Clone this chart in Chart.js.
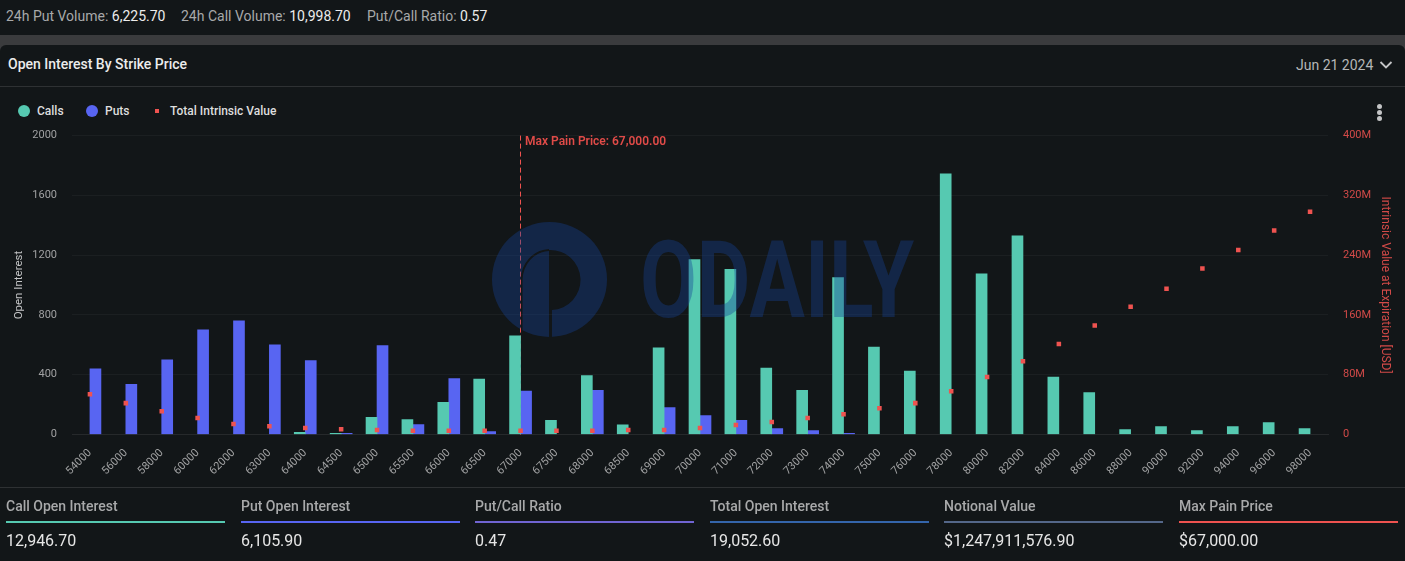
<!DOCTYPE html>
<html>
<head>
<meta charset="utf-8">
<title>Open Interest By Strike Price</title>
<script src="https://cdn.jsdelivr.net/npm/chart.js@4"></script>
<style>
html, body { margin: 0; padding: 0; background: #3a3b3d; }
body { width: 1405px; height: 561px; position: relative; overflow: hidden; font-family: Roboto, sans-serif; color: #e6e6e6; }
.topbar { position: absolute; left: 0; top: 0; width: 1405px; height: 35px; background: #121618; font-size: 14px; line-height: 33px; white-space: nowrap; }
.topbar span { position: absolute; top: 0; color: #a8a9aa; }
.topbar b { font-weight: 400; color: #ececec; }
.card { position: absolute; left: 0; top: 45px; width: 1405px; height: 516px; background: #121618; border-radius: 6px 6px 0 0; }
.title { position: absolute; left: 8px; top: 56px; font-size: 14px; line-height: 17px; font-weight: 500; color: #ececec; }
.expiry { position: absolute; left: 1296px; top: 56px; font-size: 14px; line-height: 18px; color: #b5b6b7; }
.chev { position: absolute; left: 1379px; top: 60px; }
.rule { position: absolute; left: 0; width: 1405px; height: 1px; background: #2e3133; }
.legend { position: absolute; top: 103px; height: 16px; font-size: 12px; line-height: 16px; font-weight: 500; color: #dedede; white-space: nowrap; }
.legend i { position: absolute; }
.dots { position: absolute; left: 1377px; top: 104px; width: 6px; }
.dots i { display: block; width: 5px; height: 5px; border-radius: 50%; background: #c4c5c6; margin-bottom: 1px; }
#wrap { position: absolute; left: 0; top: 114px; width: 1405px; height: 371px; }
#mark { position: absolute; left: 0; top: 0; pointer-events: none; }
.stat { position: absolute; top: 498px; width: 219px; }
.stat .lab { font-size: 14px; line-height: 17px; color: #a8a9aa; font-weight: 500; }
.stat .bar { position: absolute; top: 23px; left: 0; width: 100%; height: 2px; }
.stat .val { position: absolute; top: 33px; left: 0; font-size: 16px; line-height: 19px; color: #e6e6e6; white-space: nowrap; }
</style>
</head>
<body>
<div class="topbar" id="topbar"></div>
<div class="card"></div>
<div class="title">Open Interest By Strike Price</div>
<div class="expiry">Jun 21 2024</div>
<svg class="chev" width="14" height="12" viewBox="0 0 14 12"><path d="M1.5 2 L7 7.5 L12.5 2" fill="none" stroke="#c4c5c6" stroke-width="1.8"/></svg>
<div class="rule" style="top:86px"></div>
<div id="legend"></div>
<div class="dots"><i></i><i></i><i></i></div>
<div id="wrap"><canvas id="grafico" width="1405" height="371"></canvas></div>
<svg id="mark" width="1405" height="561" viewBox="0 0 1405 561">
  <defs>
    <mask id="recorte">
      <rect x="480" y="210" width="140" height="140" fill="#fff"/>
      <path d="M549 250 a30 30 0 0 1 3 60 l0 30 l-3 0 Z" fill="#000"/>
      <path d="M549 250 c-16 1 -27 14 -27.5 30 l0 52" fill="none" stroke="#000" stroke-width="2"/>
    </mask>
  </defs>
  <g fill="rgb(20,65,150)" fill-opacity="0.38">
    <circle cx="549.5" cy="279.5" r="57.5" mask="url(#recorte)"/>
    <text x="640" y="317" font-family="Roboto" font-weight="700" font-size="107" textLength="274" lengthAdjust="spacingAndGlyphs">ODAILY</text>
  </g>
</svg>
<div id="stats"></div>

<script>
// Dados
const strikes = ['54000', '56000', '58000', '60000', '62000', '63000', '64000', '64500', '65000', '65500', '66000', '66500', '67000', '67500', '68000', '68500', '69000', '70000', '71000', '72000', '73000', '74000', '75000', '76000', '78000', '80000', '82000', '84000', '86000', '88000', '90000', '92000', '94000', '96000', '98000'];
const calls = [null, null, null, null, null, null, 15, 8, 115, 100, 215, 370, 660, 95, 395, 65, 580, 1170, 1105, 445, 295, 1050, 585, 425, 1745, 1075, 1330, 385, 280, 33, 53, 27, 53, 80, 40];
const puts = [440, 335, 500, 700, 760, 600, 495, 8, 595, 67, 375, 20, 290, null, 295, null, 180, 127, 95, 40, 27, 7, null, null, null, null, null, null, null, null, null, null, null, null, null];
const intrinsic = [54, 42, 31, 22, 14, 11, 8.7, 7, 6, 5, 5, 5, 5, 5, 5, 6, 6, 8.7, 12.7, 16.7, 22, 27, 35, 42, 58, 77, 98, 121, 146, 171, 195, 222, 247, 273, 298];
const maxPainStrike = '67000';
const maxPainLabel = 'Max Pain Price: 67,000.00';

const topStats = [['24h Put Volume:', '6,225.70', 6], ['24h Call Volume:', '10,998.70', 181], ['Put/Call Ratio:', '0.57', 367]];
const bottomStats = [
    ['Call Open Interest', '12,946.70', '#56c9b1', 6],
    ['Put Open Interest', '6,105.90', '#5865f2', 241],
    ['Put/Call Ratio', '0.47', '#7064d2', 475],
    ['Total Open Interest', '19,052.60', '#3465ab', 710],
    ['Notional Value', '$1,247,911,576.90', '#546789', 944],
    ['Max Pain Price', '$67,000.00', '#ef5350', 1179]
];

const COR_CALLS = '#56c9b1';
const COR_PUTS = '#5865f2';
const COR_VERMELHO = '#ef5350';
const COR_TICK = '#a0a1a2';

document.getElementById('topbar').innerHTML = topStats.map(s =>
    `<span style="left:${s[2]}px">${s[0]} <b>${s[1]}</b></span>`).join('');

document.getElementById('stats').innerHTML = bottomStats.map(s => `
    <div class="stat" style="left:${s[3]}px">
        <div class="lab">${s[0]}</div>
        <div class="bar" style="background:${s[2]}"></div>
        <div class="val">${s[1]}</div>
    </div>`).join('') + '<div class="rule" style="top:487px"></div>';

document.getElementById('legend').innerHTML = `
    <div class="legend" style="left:37px"><i style="left:-19px;top:2px;width:12px;height:12px;border-radius:50%;background:${COR_CALLS}"></i>Calls</div>
    <div class="legend" style="left:105px"><i style="left:-19px;top:2px;width:12px;height:12px;border-radius:50%;background:${COR_PUTS}"></i>Puts</div>
    <div class="legend" style="left:170px"><i style="left:-15px;top:6px;width:4px;height:4px;background:${COR_VERMELHO}"></i>Total Intrinsic Value</div>`;

// Linha do Max Pain, desenhada por trás das barras
const linhaMaxPain = {
    id: 'linhaMaxPain',
    beforeDatasetsDraw(chart) {
        const { ctx, chartArea, scales } = chart;
        const x = Math.round(scales.x.getPixelForValue(strikes.indexOf(maxPainStrike))) - 0.5;
        ctx.save();
        ctx.strokeStyle = COR_VERMELHO;
        ctx.lineWidth = 1;
        ctx.setLineDash([5, 3]);
        ctx.beginPath();
        ctx.moveTo(x, chartArea.top);
        ctx.lineTo(x, chartArea.bottom);
        ctx.stroke();
        ctx.setLineDash([]);
        ctx.fillStyle = '#e04b48';
        ctx.font = '600 12px Roboto';
        ctx.textAlign = 'left';
        ctx.textBaseline = 'middle';
        ctx.fillText(maxPainLabel, x + 4.5, chartArea.top + 6);
        ctx.restore();
    }
};

new Chart(document.getElementById('grafico'), {
    type: 'bar',
    data: {
        labels: strikes,
        datasets: [
            { label: 'Total Intrinsic Value', type: 'line', data: intrinsic.map(v => v * 1e6), yAxisID: 'y1', showLine: false, pointStyle: 'rect', pointRadius: 3.2, pointBackgroundColor: COR_VERMELHO, pointBorderWidth: 0, order: 0 },
            { label: 'Calls', data: calls, backgroundColor: COR_CALLS, barThickness: 11, yAxisID: 'y', order: 1 },
            { label: 'Puts', data: puts, backgroundColor: COR_PUTS, barThickness: 11, yAxisID: 'y', order: 1 }
        ]
    },
    options: {
        responsive: false,
        animation: false,
        devicePixelRatio: 1,
        layout: { padding: 0 },
        plugins: { legend: { display: false }, tooltip: { enabled: false } },
        scales: {
            x: {
                afterFit(s) { s.height = 50.5; },
                grid: { display: false },
                border: { color: '#26292b' },
                ticks: { color: COR_TICK, font: { family: 'Roboto', size: 11 }, minRotation: 45, maxRotation: 45, autoSkip: false, padding: 4 }
            },
            y: {
                min: 0,
                max: 2000,
                afterFit(s) { s.width = 72; },
                grid: { color: '#1b1f21', drawTicks: false },
                border: { display: false },
                ticks: { stepSize: 400, color: COR_TICK, font: { family: 'Roboto', size: 11 }, padding: 15, callback: v => String(v) },
                title: { display: true, text: 'Open Interest', color: '#c4c5c6', font: { family: 'Roboto', size: 11.5 }, padding: { top: 12, bottom: 0 } }
            },
            y1: {
                position: 'right',
                min: 0,
                max: 400000000,
                afterFit(s) { s.width = 77; },
                grid: { drawOnChartArea: false, drawTicks: false },
                border: { display: false },
                ticks: { stepSize: 80000000, color: '#d24a48', font: { family: 'Roboto', size: 11 }, padding: 15, callback: v => v === 0 ? '0' : (v / 1e6) + 'M' },
                title: { display: true, text: 'Intrinsic Value at Expiration [USD]', color: '#d24a48', font: { family: 'Roboto', size: 12 }, padding: { top: 13, bottom: 0 } }
            }
        }
    },
    plugins: [linhaMaxPain]
});
</script>
</body>
</html>
